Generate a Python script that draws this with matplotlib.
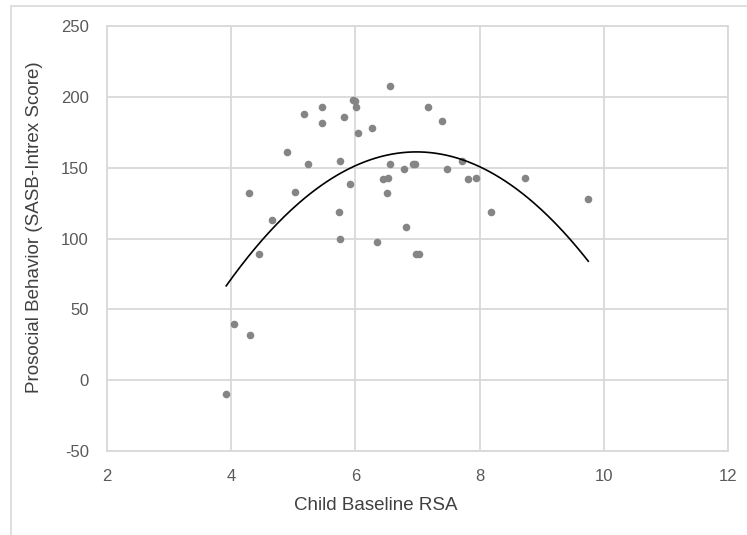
import numpy as np
import matplotlib

matplotlib.use("Agg")
import matplotlib.pyplot as plt
from matplotlib.patches import Rectangle

plt.rcParams["axes.unicode_minus"] = False

# Child baseline RSA vs prosocial behavior
rsa = [3.92, 4.05, 4.30, 4.28, 4.45, 4.65, 4.90, 5.03, 5.17, 5.23,
       5.46, 5.46, 5.74, 5.75, 5.75, 5.81, 5.91, 5.96, 5.99, 6.01,
       6.05, 6.27, 6.34, 6.44, 6.53, 6.51, 6.56, 6.56, 6.78, 6.81,
       6.93, 6.96, 6.97, 7.02, 7.17, 7.40, 7.47, 7.71, 7.82, 7.94,
       8.18, 8.73, 9.75]
prosocial = [-10, 40, 32, 132, 89, 113, 161, 133, 188, 153,
             193, 182, 119, 100, 155, 186, 139, 198, 197, 193,
             175, 178, 98, 142, 143, 132, 153, 208, 149, 108,
             153, 153, 89, 89, 193, 183, 149, 155, 142, 143,
             119, 143, 128]

x_ticks = [2, 4, 6, 8, 10, 12]
y_ticks = [-50, 0, 50, 100, 150, 200, 250]

x_label = "Child Baseline RSA"
y_label = "Prosocial Behavior (SASB-Intrex Score)"

font = ["Liberation Sans", "DejaVu Sans"]
grid_color = "#d9d9d9"

fig = plt.figure(figsize=(7.47, 5.35), dpi=100)
ax = fig.add_axes([0.1432, 0.157, 0.8314, 0.7935])

# outer chart border (light gray)
fig.patches.append(
    Rectangle((11 / 747, -0.1), 1.2, 1.1 - 6 / 535, transform=fig.transFigure,
              fill=False, edgecolor=grid_color, linewidth=1.2, clip_on=False)
)

ax.scatter(rsa, prosocial, s=30, color="#858585", linewidths=0, zorder=3)

# quadratic trendline (as Excel would draw it)
coef = np.polyfit(rsa, prosocial, 2)
xs = np.linspace(min(rsa), max(rsa), 200)
ax.plot(xs, np.polyval(coef, xs), color="black", linewidth=1.2, zorder=4)

ax.set_xlim(2, 12)
ax.set_ylim(-50, 250)
ax.set_xticks(x_ticks)
ax.set_yticks(y_ticks)
ax.grid(True, color=grid_color, linewidth=1.3)
ax.set_axisbelow(True)
for sp in ax.spines.values():
    sp.set_color(grid_color)
    sp.set_linewidth(1.3)
ax.tick_params(length=0, labelsize=12, labelcolor="#595959", pad=13)
for lbl in ax.get_xticklabels() + ax.get_yticklabels():
    lbl.set_family(font)

ax.set_xlabel(x_label, fontsize=13.5, family=font, color="#404040")
ax.set_ylabel(y_label, fontsize=13.5, family=font, color="#404040")
ax.xaxis.set_label_coords(0.433, -0.108)
ax.yaxis.set_label_coords(-0.103, 0.528)

fig.savefig("out.png", dpi=100)
